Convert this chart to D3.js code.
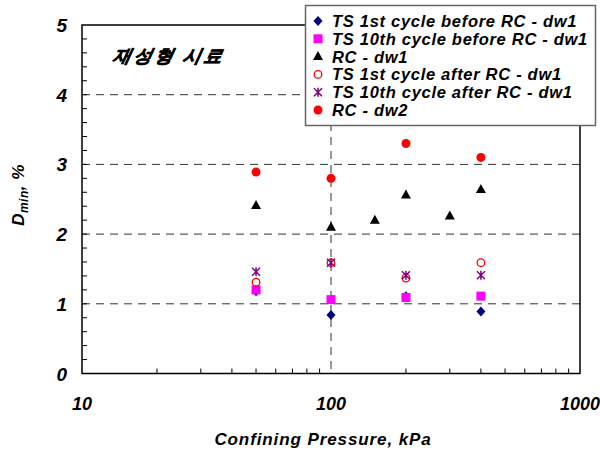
<!DOCTYPE html>
<html><head><meta charset="utf-8">
<script src="https://cdn.jsdelivr.net/npm/d3@7"></script>
<style>body{margin:0;background:#fff}svg{display:block}text{font-family:"Liberation Sans",Arial,sans-serif;font-weight:bold;font-style:italic}</style>
</head><body><svg id="c" width="600" height="453"></svg>
<script>
const xTickLabels = [10, 100, 1000];
const yTickLabels = [0, 1, 2, 3, 4, 5];
const seriesNames = ["TS 1st cycle before RC - dw1","TS 10th cycle before RC - dw1","RC - dw1","TS 1st cycle after RC - dw1","TS 10th cycle after RC - dw1","RC - dw2"];
const ts1BeforeX = [50, 100, 200, 400];
const ts1BeforeY = [1.18, 0.84, 1.11, 0.89];
const ts10BeforeX = [50, 100, 200, 400];
const ts10BeforeY = [1.20, 1.06, 1.09, 1.11];
const rcDw1X = [50, 100, 150, 200, 300, 400];
const rcDw1Y = [2.41, 2.10, 2.20, 2.56, 2.26, 2.64];
const ts1AfterX = [50, 100, 200, 400];
const ts1AfterY = [1.31, 1.59, 1.37, 1.59];
const ts10AfterX = [50, 100, 200, 400];
const ts10AfterY = [1.46, 1.59, 1.41, 1.41];
const rcDw2X = [50, 100, 200, 400];
const rcDw2Y = [2.89, 2.80, 3.30, 3.10];
const annotation = "재성형 시료";
const xTitle = "Confining Pressure, kPa";

const svg = d3.select("#c");
const L = 82, R = 580, T = 25, B = 373.5;
const x = d3.scaleLog().domain([10, 1000]).range([L, R]);
const y = d3.scaleLinear().domain([0, 5]).range([B, T]);

// grid
svg.append("g").selectAll("line").data([1,2,3,4]).join("line")
  .attr("x1", L).attr("x2", R).attr("y1", d=>y(d)).attr("y2", d=>y(d))
  .attr("stroke", "#333").attr("stroke-width", 1).attr("stroke-dasharray", "8,6");
svg.append("line").attr("x1", x(100)).attr("x2", x(100)).attr("y1", T).attr("y2", B)
  .attr("stroke", "#333").attr("stroke-width", 1).attr("stroke-dasharray", "8,6");

// minor ticks
const yMinor = d3.range(0, 5.001, 0.2).filter(v => v > 0.01 && v < 4.99);
svg.append("g").selectAll("line").data(yMinor).join("line")
  .attr("x1", L).attr("x2", L + 5).attr("y1", d=>y(d)).attr("y2", d=>y(d))
  .attr("stroke", "#000");
const xMinor = x.ticks(20).filter(v => v > 10 && v < 1000 && v !== 100);
svg.append("g").selectAll("line").data(xMinor).join("line")
  .attr("x1", d=>x(d)).attr("x2", d=>x(d)).attr("y1", B).attr("y2", B - 5)
  .attr("stroke", "#000");

// frame
svg.append("rect").attr("x", L).attr("y", T).attr("width", R - L).attr("height", B - T)
  .attr("fill", "none").attr("stroke", "#000").attr("stroke-width", 1.5);

// tick labels
svg.append("g").selectAll("text").data(yTickLabels).join("text")
  .attr("x", 67).attr("y", d=>y(d) + 7).attr("text-anchor", "end")
  .attr("font-size", 19).text(d=>d);
svg.append("g").selectAll("text").data(xTickLabels).join("text")
  .attr("x", d=>x(d)).attr("y", 410).attr("text-anchor", "middle")
  .attr("font-size", 18).text(d=>d);

// titles
svg.append("text").attr("x", 323).attr("y", 445).attr("text-anchor", "middle")
  .attr("font-size", 17).attr("letter-spacing", 0.9).text(xTitle);
const yt = svg.append("text").attr("transform", "translate(24,195) rotate(-90)")
  .attr("text-anchor", "middle").attr("font-size", 17).attr("letter-spacing", 0.5);
yt.append("tspan").text("D");
yt.append("tspan").attr("font-size", 12).attr("dy", 4).text("min");
yt.append("tspan").attr("dy", -4).text(", %");

svg.append("g").attr("transform", "translate(112,62) skewX(-12)")
  .append("text").attr("x", 0).attr("y", 0).attr("font-size", 18).attr("letter-spacing", 3)
  .attr("stroke", "#000").attr("stroke-width", 0.6)
  .attr("font-family", "'Noto Sans CJK KR', sans-serif").text(annotation);

// markers
function drawMarker(g, type, cx, cy) {
  if (type === 0) {
    g.append("path").attr("d", `M${cx},${cy-5}L${cx+4.5},${cy}L${cx},${cy+5}L${cx-4.5},${cy}Z`).attr("fill", "#000080");
  } else if (type === 1) {
    g.append("rect").attr("x", cx-4.5).attr("y", cy-4.5).attr("width", 9).attr("height", 9).attr("fill", "#ff00ff");
  } else if (type === 2) {
    g.append("path").attr("d", `M${cx},${cy-5.5}L${cx+5},${cy+3.5}L${cx-5},${cy+3.5}Z`).attr("fill", "#000");
  } else if (type === 3) {
    g.append("circle").attr("cx", cx).attr("cy", cy).attr("r", 3.8).attr("fill", "none").attr("stroke", "#ff0000").attr("stroke-width", 1.3);
  } else if (type === 4) {
    g.append("path").attr("d", `M${cx-4},${cy-4}L${cx+4},${cy+4}M${cx+4},${cy-4}L${cx-4},${cy+4}M${cx},${cy-4.5}L${cx},${cy+4.5}`)
      .attr("stroke", "#800080").attr("stroke-width", 1.5).attr("fill", "none");
  } else {
    g.append("circle").attr("cx", cx).attr("cy", cy).attr("r", 4.5).attr("fill", "#ff0000");
  }
}
const series = [
  [ts1BeforeX, ts1BeforeY], [ts10BeforeX, ts10BeforeY], [rcDw1X, rcDw1Y],
  [ts1AfterX, ts1AfterY], [ts10AfterX, ts10AfterY], [rcDw2X, rcDw2Y]
];
const mg = svg.append("g");
series.forEach(([xs, ys], i) => xs.forEach((xv, j) => drawMarker(mg, i, x(xv), y(ys[j]))));

// legend
const lg = svg.append("g");
lg.append("rect").attr("x", 305.5).attr("y", 5.5).attr("width", 290).attr("height", 120)
  .attr("fill", "#fff").attr("stroke", "#666").attr("stroke-width", 1.5);
seriesNames.forEach((name, i) => {
  const cy = 21 + i * 17.8;
  drawMarker(lg, i, 318, cy);
  lg.append("text").attr("x", 332).attr("y", cy + 6).attr("font-size", 16.5)
    .attr("letter-spacing", 0.7).text(name);
});
</script></body></html>
